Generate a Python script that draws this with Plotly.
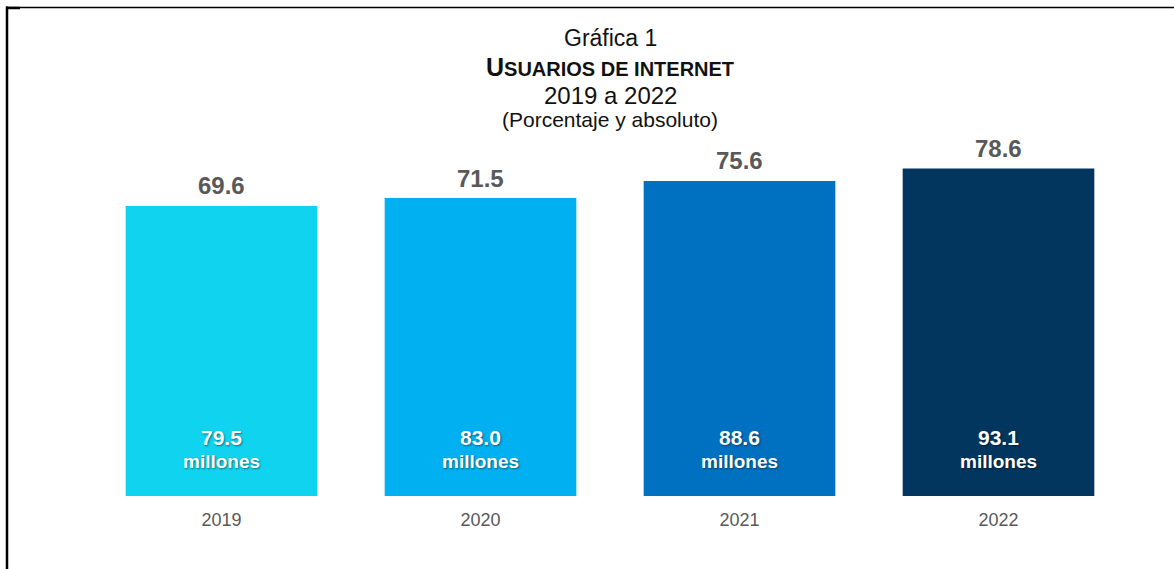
import plotly.graph_objects as go

years = ["2019", "2020", "2021", "2022"]
pct = [69.6, 71.5, 75.6, 78.6]
millions = [79.5, 83.0, 88.6, 93.1]
colors = ["#0FD3EF", "#00B0F0", "#0070C0", "#02365F"]

W, H = 1174, 569
L, R, T, B = 92, 46, 130, 73
pw, ph = W - L - R, H - T - B
ymax = ph / 4.167

def px_x(px):
    return (px - L) / pw

def px_y(py):
    return (H - B - py) / ph

fig = go.Figure()
fig.add_trace(go.Bar(
    x=years, y=pct, marker=dict(color=colors, line=dict(width=0)),
    width=0.74, hoverinfo="skip",
))

FONT = "Liberation Sans, Arial, sans-serif"
ann = []
for i, (p, m) in enumerate(zip(pct, millions)):
    ann.append(dict(x=i, y=p, xref="x", yref="y", text=f"<b>{p:.1f}</b>",
                    showarrow=False, yanchor="middle", yshift=20,
                    font=dict(family=FONT, size=24, color="#595959")))
    ann.append(dict(x=i, y=0, xref="x", yref="y", text=f"<b>{m:.1f}</b>",
                    showarrow=False, yanchor="middle", yshift=59,
                    font=dict(family=FONT, size=21, color="white",
                              shadow="1px 1px 2px rgba(0,0,0,0.45)")))
    ann.append(dict(x=i, y=0, xref="x", yref="y", text="<b>millones</b>",
                    showarrow=False, yanchor="middle", yshift=35,
                    font=dict(family=FONT, size=19, color="white",
                              shadow="1px 1px 2px rgba(0,0,0,0.45)")))

titles = [
    ("Gráfica 1", 38, dict(size=23)),
    ("<b><span style='font-size:25px'>U</span>SUARIOS DE INTERNET</b>", 67, dict(size=20)),
    ("2019 a 2022", 95, dict(size=24)),
    ("(Porcentaje y absoluto)", 120, dict(size=21)),
]
for txt, py, f in titles:
    ann.append(dict(x=0.5, y=px_y(py), xref="paper", yref="paper", text=txt,
                    showarrow=False, yanchor="middle", xanchor="center",
                    font=dict(family=FONT, color="#111111", **f)))

shapes = [
    dict(type="line", xref="paper", yref="paper", x0=px_x(6), x1=px_x(1180),
         y0=px_y(7.5), y1=px_y(7.5), line=dict(color="black", width=1.5)),
    dict(type="line", xref="paper", yref="paper", x0=px_x(7), x1=px_x(7),
         y0=px_y(6.5), y1=px_y(575), line=dict(color="black", width=2.5)),
    dict(type="line", xref="paper", yref="paper", x0=px_x(6), x1=px_x(20),
         y0=px_y(8), y1=px_y(8), line=dict(color="black", width=2.5)),
]

fig.update_layout(
    width=W, height=H,
    margin=dict(l=L, r=R, t=T, b=B, pad=0),
    paper_bgcolor="white", plot_bgcolor="white",
    showlegend=False,
    annotations=ann, shapes=shapes,
    xaxis=dict(type="category", range=[-0.5, 3.5], showgrid=False, zeroline=False,
               showline=False, ticks="",
               tickfont=dict(family=FONT, size=18, color="#595959"),
               ticklabelstandoff=11),
    yaxis=dict(range=[0, ymax], visible=False, showgrid=False, zeroline=False),
)

fig.write_html("out.html", config={"displayModeBar": False},
               post_script="document.body.style.margin='0';document.body.style.overflow='hidden';")
